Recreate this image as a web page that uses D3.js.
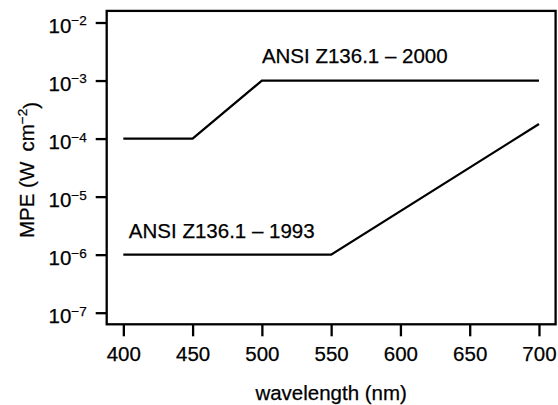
<!DOCTYPE html>
<html>
<head>
<meta charset="utf-8">
<script src="https://cdn.jsdelivr.net/npm/d3@7"></script>
<style>
  body { margin: 0; background: #fff; }
  text { font-family: "Liberation Sans", Arial, sans-serif; fill: #000; stroke: #000; stroke-width: 0.25px; }
</style>
</head>
<body>
<div id="chart"></div>
<script>
// data
const std2000Wavelength = [400, 450, 500, 700];
const std2000Mpe = [1e-4, 1e-4, 1e-3, 1e-3];
const std1993Wavelength = [400, 550, 700];
const std1993Mpe = [1e-6, 1e-6, 1.78e-4];
const xTicks = [400, 450, 500, 550, 600, 650, 700];
const yTickExponents = [-2, -3, -4, -5, -6, -7];
const seriesLabels = ["ANSI Z136.1 \u2013 2000", "ANSI Z136.1 \u2013 1993"];

const W = 558, H = 405;
const fontSize = 20.5;
const supSize = 13.5;
const lw = 2.3;

const svg = d3.select("#chart").append("svg")
    .attr("width", W)
    .attr("height", H);

// scales: box is the data range padded by 4% (R style)
const x = d3.scaleLinear()
    .domain([388, 712])
    .range([106.7, 555.6]);

const y = d3.scaleLog()
    .domain([Math.pow(10, -7.2), Math.pow(10, -1.8)])
    .range([324.3, 10.9]);

// plot box
svg.append("rect")
    .attr("x", x(388))
    .attr("y", y(Math.pow(10, -1.8)))
    .attr("width", x(712) - x(388))
    .attr("height", y(Math.pow(10, -7.2)) - y(Math.pow(10, -1.8)))
    .attr("fill", "none")
    .attr("stroke", "#000")
    .attr("stroke-width", lw);

// x axis
const xAxis = svg.append("g")
    .attr("transform", `translate(0,${y(Math.pow(10, -7.2))})`)
    .call(d3.axisBottom(x).tickValues(xTicks).tickSize(12).tickSizeOuter(0).tickPadding(10));
xAxis.select(".domain").remove();
xAxis.selectAll("line").attr("stroke", "#000").attr("stroke-width", lw);
xAxis.selectAll("text")
    .attr("font-family", null)
    .style("font-size", fontSize + "px");

// y axis with 10^n labels
const yAxis = svg.append("g")
    .attr("transform", `translate(${x(388)},0)`)
    .call(d3.axisLeft(y).tickValues(yTickExponents.map(e => Math.pow(10, e)))
        .tickSize(11).tickSizeOuter(0).tickPadding(9).tickFormat(() => ""));
yAxis.select(".domain").remove();
yAxis.selectAll("line").attr("stroke", "#000").attr("stroke-width", lw);
yAxis.selectAll(".tick text").each(function(d) {
    const t = d3.select(this)
        .attr("font-family", null)
        .attr("dy", "0.48em")
        .style("font-size", fontSize + "px");
    t.append("tspan").text("10");
    t.append("tspan")
        .attr("dy", "-0.55em")
        .style("font-size", supSize + "px")
        .text("\u2212" + Math.abs(Math.round(Math.log10(d))));
});

// lines
const line = d3.line()
    .x(d => x(d[0]))
    .y(d => y(d[1]));

svg.append("path")
    .datum(std2000Wavelength.map((w, i) => [w, std2000Mpe[i]]))
    .attr("d", line)
    .attr("fill", "none")
    .attr("stroke", "#000")
    .attr("stroke-width", lw);

svg.append("path")
    .datum(std1993Wavelength.map((w, i) => [w, std1993Mpe[i]]))
    .attr("d", line)
    .attr("fill", "none")
    .attr("stroke", "#000")
    .attr("stroke-width", lw);

// series labels
svg.append("text")
    .attr("x", x(500))
    .attr("y", y(1e-3) - 18)
    .style("font-size", fontSize + "px")
    .text(seriesLabels[0]);

svg.append("text")
    .attr("x", x(404))
    .attr("y", y(1e-6) - 17)
    .style("font-size", fontSize + "px")
    .text(seriesLabels[1]);

// axis titles
svg.append("text")
    .attr("x", x(550))
    .attr("y", 400)
    .attr("text-anchor", "middle")
    .style("font-size", fontSize + "px")
    .text("wavelength (nm)");

const yTitle = svg.append("text")
    .attr("transform", "translate(34,170) rotate(-90)")
    .attr("text-anchor", "middle")
    .style("font-size", fontSize + "px");
yTitle.append("tspan").text("MPE (W\u2002cm");
yTitle.append("tspan").attr("dy", "-0.55em").style("font-size", supSize + "px").text("\u22122");
yTitle.append("tspan").attr("dy", "0.55em").text(")");
</script>
</body>
</html>
